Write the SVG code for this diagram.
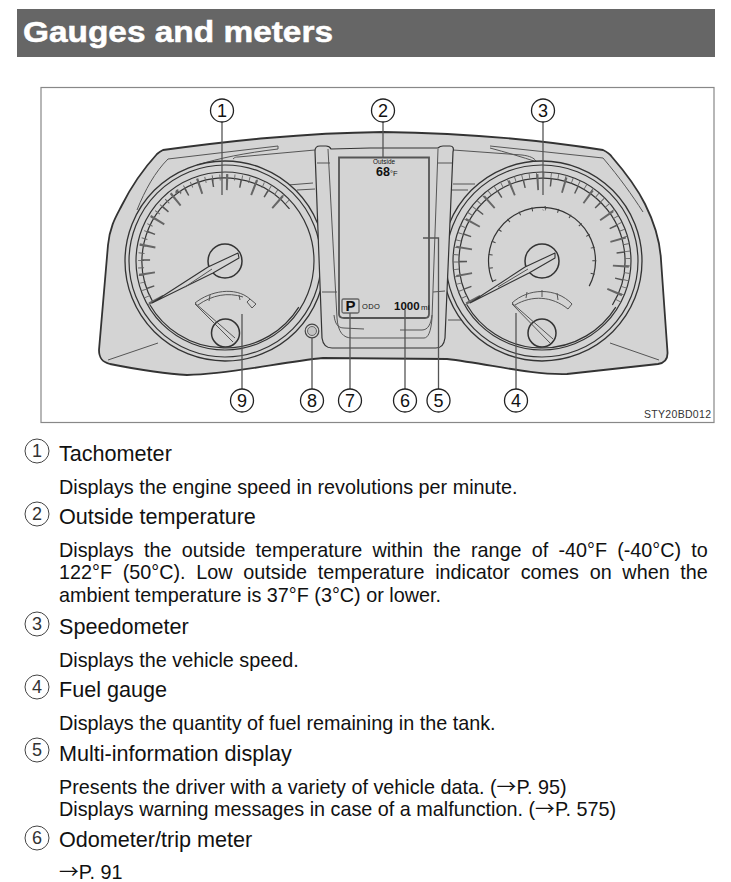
<svg xmlns="http://www.w3.org/2000/svg" width="731" height="882" viewBox="0 0 731 882">
<style>
text{font-family:"Liberation Sans",Arial,sans-serif;fill:#111}
.h{font-size:21.6px}
.b{font-size:19.8px}
.ar{font-family:"Noto Sans CJK JP","Liberation Sans",sans-serif;font-size:19.8px}
.ln{fill:none;stroke:#555;stroke-width:1}
.ring{fill:none;stroke:#333;stroke-width:1.2}
.panel{fill:#d4d4d4;stroke:#333;stroke-width:1.3}
.long{fill:none;stroke:#666;stroke-width:16}
.short{fill:none;stroke:#555;stroke-width:8}
.hatch{fill:none;stroke:#666;stroke-width:6}
.lead{stroke:#555;stroke-width:1.3;fill:none}
.co circle{fill:#fff;stroke:#222;stroke-width:1.3}
.co text{font-size:18px;text-anchor:middle}
.li circle{fill:#fff;stroke:#444;stroke-width:1}
.li text{font-size:18px;text-anchor:middle;fill:#333}
.nd{fill:#d4d4d4;stroke:#333;stroke-width:1.1;stroke-linejoin:round}
</style>

<g id="title">
<rect x="17" y="9" width="698" height="48" fill="#666"/>
<text x="23" y="41.500" font-size="30" font-weight="700" textLength="310" lengthAdjust="spacingAndGlyphs" style="fill:#fff;stroke:#fff;stroke-width:.5">Gauges and meters</text>
</g>

<g id="figure">
<rect x="41" y="87.500" width="673" height="335" fill="#fff" stroke="#888" stroke-width="1.2"/>

<path id="housing" d="M163 150C230 141 300 133 383 132C465 133 540 140 603 150C607 152 610 154 612 157C625 172 638 190 645 204C654 222 660 240 661 260L667.500 352C668 360 664 363 658 364L567 374C530 375 490 364 447 359L323 358C280 362 235 374 187 375C165 374 130 368 110 364C102 362 99 358 99 350L108 245C110 225 117 215 122 205C132 185 147 165 157 154C159 152 161 151 163 150Z" fill="#d4d4d4" stroke="#333" stroke-width="1.8"/>

<g id="housing-lines" class="ln">
<path d="M137 210C145 190 155 172 168 159L278 146L278 149C245 153 220 158 197 165"/>
<path d="M233 159C235 157 236 157 238 157L315 150"/>
<path d="M288 185L313 183M297 190L315 189"/>
<path d="M108 360L158 343"/>
<path d="M490 146L603 158C620 178 632 195 643 212"/>
<path d="M490 148C505 152 522 157 537 162"/>
<path d="M453 150L522 155C530 156 534 158 536 161"/>
<path d="M453 184L475 184M452 190L468 190"/>
<path d="M610 343L659 360"/>
<path d="M448 320L470 320"/>
</g>

<g id="tachometer">
<circle class="panel" cx="225" cy="261" r="100"/>
<circle class="ring" cx="225" cy="261" r="96"/>
<circle class="ring" cx="225" cy="261" r="89"/>
<path class="ring" d="M149.700 304.500A87 87 0 0 0 298.800 307.100"/>
<path class="ring" d="M153.100 302.500A83 83 0 0 1 289.500 208.800"/>
<path class="hatch" pathLength="170" stroke-dasharray="0.600 4.400" d="M151 303.500A86 86 0 0 1 292 206.900"/>
<path class="long" pathLength="170" stroke-dasharray="1.500 18.500" d="M156.600 300.500A79 79 0 0 1 286.400 211.300"/>
<path class="short" pathLength="170" stroke-dasharray="1.100 18.900" stroke-dashoffset="-10" d="M156.600 300.500A79 79 0 0 1 286.400 211.300"/>
<circle cx="225" cy="261" r="17" fill="#d4d4d4" stroke="#333" stroke-width="1.500"/>
<path class="nd" d="M152 303L208 267L238 253L239 258L213 273Z"/>
<path class="ln" d="M185 287L212 269"/>
<circle cx="225.500" cy="333" r="14" fill="#d4d4d4" stroke="#333" stroke-width="1.500"/>
<path class="ln" stroke="#333" d="M195 303L235 338M195 304L233 342"/>
<path class="ln" d="M195 303C210 291 235 286 250 299M198 305C212 295 228 292 243 297"/>
<path class="ln" d="M247 302L250 299L256 304L252 308Z"/>
<path class="ln" d="M210 295L209 301M239 295L240 300"/>
</g>

<g id="speedometer">
<circle class="panel" cx="542" cy="261" r="100"/>
<circle class="ring" cx="542" cy="261" r="96"/>
<circle class="ring" cx="542" cy="261" r="89"/>
<path class="ring" d="M466.700 304.500A87 87 0 0 0 615.800 307.100"/>
<path class="ring" d="M470.100 302.500A83 83 0 1 1 612.400 305"/>
<path class="hatch" pathLength="250" stroke-dasharray="0.600 4.400" d="M467.500 304A86 86 0 1 1 615 306.500"/>
<path class="long" pathLength="250" stroke-dasharray="1.500 18.500" d="M473.600 300.500A79 79 0 1 1 609 302.900"/>
<path class="short" pathLength="250" stroke-dasharray="1.100 18.900" stroke-dashoffset="-10" d="M473.600 300.500A79 79 0 1 1 609 302.900"/>
<path class="ring" stroke-width="1.400" d="M492.800 281.900A53.500 53.500 0 1 1 589.200 286.100"/>
<path fill="none" stroke="#444" stroke-width="4" pathLength="160" stroke-dasharray="0.800 9.200" d="M494.600 281A52 52 0 1 1 587.900 285.400"/>
<circle cx="542" cy="261" r="17" fill="#d4d4d4" stroke="#333" stroke-width="1.500"/>
<path class="nd" d="M470 303L525 267L555 253L555 258L529 273Z"/>
<path class="ln" d="M498 287L528 269"/>
<circle cx="542" cy="333" r="14" fill="#d4d4d4" stroke="#333" stroke-width="1.500"/>
<path class="ln" d="M512 303L553 339M512 304L550 343"/>
<path class="ln" d="M512 303C528 288 556 287 572 304L568 309C552 296 532 295 515 305"/>
<path class="ln" d="M527 292L526 298M542 290L542 297M557 293L558 300"/>
</g>

<g id="display">
<path d="M315 151C315 147 317 146 320 146L326 146C329 146 330 147 331 149L370 148L438 148C439 147 440 146 443 146L450 146C453 146 454 148 453 152L445 338C444 345 441 348 436 348L332 348C326 348 323 345 322 338Z" fill="#d4d4d4" stroke="#333" stroke-width="1.200"/>
<path class="ln" d="M328 149L337 318C338 332 343 338 352 338L424 338C428 338 431 332 432 318L438 149"/>
<path class="ln" d="M334 315C335 324 338 328 344 328L364 329M432 315C431 324 428 330 422 330L400 330"/>
<path class="ln" d="M317 163L330 163M322 292L337 292M438 163L452 163M433 292L445 291"/>
<path d="M339 157.500L429 157.500L429 314C429 317 427 318 425 318L344 318C341 318 339 317 339 314Z" fill="#d4d4d4" stroke="#555" stroke-width="1.800"/>
<text x="384" y="164" font-size="7" text-anchor="middle" textLength="22" lengthAdjust="spacingAndGlyphs">Outside</text>
<text x="376" y="175.500" font-size="12.500" font-weight="700">68</text>
<text x="390" y="175.500" font-size="7.500">°F</text>
<rect x="342" y="299" width="17" height="14" rx="1.500" fill="#d4d4d4" stroke="#666" stroke-width="1.300"/>
<text x="350.500" y="311" font-size="15" font-weight="700" text-anchor="middle">P</text>
<text x="362" y="309" font-size="7.500" letter-spacing=".4">ODO</text>
<text x="394" y="310" font-size="11.500" font-weight="700">1000</text>
<text x="421" y="310" font-size="8">mi</text>
</g>

<g id="indicator-lamp">
<circle cx="312" cy="331" r="6.800" fill="#d4d4d4" stroke="#444" stroke-width="1.200"/>
<circle cx="312" cy="331" r="4.500" fill="#c4c4c4" stroke="#666" stroke-width="1"/>
</g>

<g id="connectors" class="lead">
<path d="M222 122V195"/>
<path d="M383 122V157"/>
<path d="M543 122V195"/>
<path d="M516 389V313"/>
<path d="M438.500 389V238H423"/>
<path d="M405 389V310"/>
<path d="M350 389V313"/>
<path d="M312 389V338"/>
<path d="M242 389V314"/>
</g>

<g id="callouts" class="co">
<g id="callout-1"><circle cx="222" cy="110.500" r="11.500"/><text x="222" y="117">1</text></g>
<g id="callout-2"><circle cx="383" cy="110.500" r="11.500"/><text x="383" y="117">2</text></g>
<g id="callout-3"><circle cx="543" cy="110.500" r="11.500"/><text x="543" y="117">3</text></g>
<g id="callout-9"><circle cx="242" cy="400.500" r="11.500"/><text x="242" y="407">9</text></g>
<g id="callout-8"><circle cx="312" cy="400.500" r="11.500"/><text x="312" y="407">8</text></g>
<g id="callout-7"><circle cx="350" cy="400.500" r="11.500"/><text x="350" y="407">7</text></g>
<g id="callout-6"><circle cx="405" cy="400.500" r="11.500"/><text x="405" y="407">6</text></g>
<g id="callout-5"><circle cx="438.500" cy="400.500" r="11.500"/><text x="438.500" y="407">5</text></g>
<g id="callout-4"><circle cx="516" cy="400.500" r="11.500"/><text x="516" y="407">4</text></g>
</g>

<text x="644" y="418" font-size="10.500" textLength="67" style="fill:#333">STY20BD012</text>
</g>

<g id="legend">
<g id="item-1" class="li"><circle cx="37" cy="451" r="12"/><text x="37" y="457">1</text></g>
<text class="h" x="59" y="461">Tachometer</text>
<text class="b" x="59" y="494">Displays the engine speed in revolutions per minute.</text>

<g id="item-2" class="li"><circle cx="37" cy="514" r="12"/><text x="37" y="520">2</text></g>
<text class="h" x="59" y="524">Outside temperature</text>
<text class="b" x="59" y="557" word-spacing="4.700">Displays the outside temperature within the range of -40°F (-40°C) to</text>
<text class="b" x="59" y="579" word-spacing="5.220">122°F (50°C). Low outside temperature indicator comes on when the</text>
<text class="b" x="59" y="602">ambient temperature is 37°F (3°C) or lower.</text>

<g id="item-3" class="li"><circle cx="37" cy="624" r="12"/><text x="37" y="630">3</text></g>
<text class="h" x="59" y="634">Speedometer</text>
<text class="b" x="59" y="667">Displays the vehicle speed.</text>

<g id="item-4" class="li"><circle cx="37" cy="687" r="12"/><text x="37" y="693">4</text></g>
<text class="h" x="59" y="697">Fuel gauge</text>
<text class="b" x="59" y="730">Displays the quantity of fuel remaining in the tank.</text>

<g id="item-5" class="li"><circle cx="37" cy="750" r="12"/><text x="37" y="756">5</text></g>
<text class="h" x="59" y="761">Multi-information display</text>
<text class="b" x="59" y="794">Presents the driver with a variety of vehicle data. (<tspan class="ar">→</tspan>P. 95)</text>
<text class="b" x="59" y="816">Displays warning messages in case of a malfunction. (<tspan class="ar">→</tspan>P. 575)</text>

<g id="item-6" class="li"><circle cx="37" cy="838" r="12"/><text x="37" y="844">6</text></g>
<text class="h" x="59" y="847">Odometer/trip meter</text>
<text class="b" x="59" y="879"><tspan class="ar">→</tspan>P. 91</text>
</g>
</svg>
